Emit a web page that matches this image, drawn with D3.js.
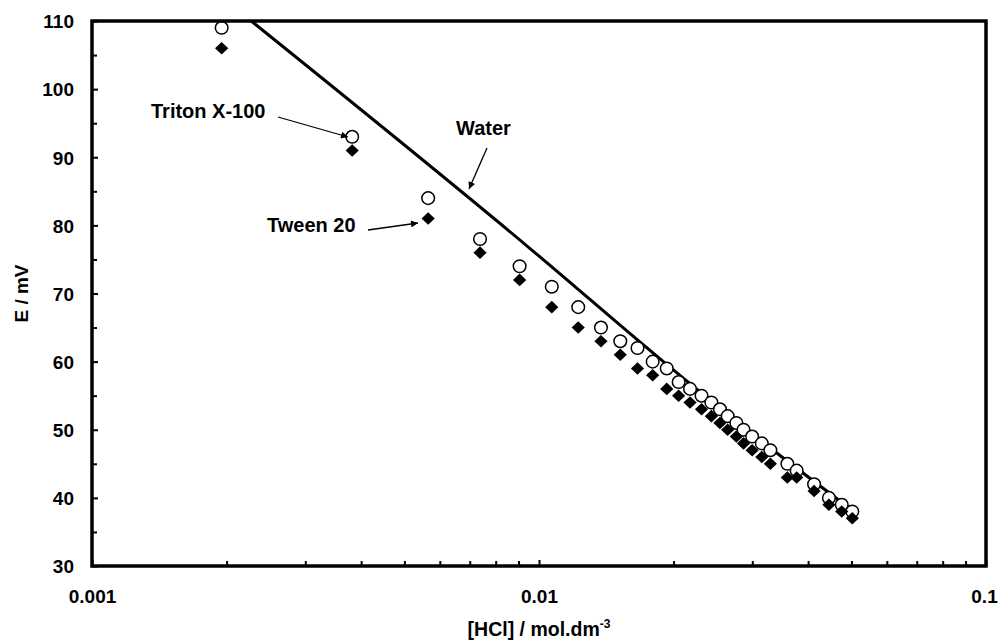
<!DOCTYPE html>
<html>
<head>
<meta charset="utf-8">
<script src="https://cdn.jsdelivr.net/npm/d3@7"></script>
<style>
  html, body { margin: 0; padding: 0; background: #fff; }
  svg { display: block; }
  text { font-family: "Liberation Sans", Arial, Helvetica, sans-serif; font-weight: bold; fill: #000; }
</style>
</head>
<body>
<svg id="chart" width="998" height="644"></svg>
<script>
// ---------------- data ----------------
const hcl = [0.00195, 0.00382, 0.00565, 0.00738, 0.00905, 0.01068, 0.01224, 0.01376, 0.01520, 0.01661,
             0.01796, 0.01931, 0.02053, 0.02177, 0.02310, 0.02430, 0.02540, 0.02643, 0.02764, 0.02868,
             0.02998, 0.03151, 0.03293, 0.03594, 0.03771, 0.04125, 0.04452, 0.04756, 0.05022];
const tritonE = [109, 93, 84, 78, 74, 71, 68, 65, 63, 62,
                 60, 59, 57, 56, 55, 54, 53, 52, 51, 50,
                 49, 48, 47, 45, 44, 42, 40, 39, 38];
const tweenE = [106, 91, 81, 76, 72, 68, 65, 63, 61, 59,
                58, 56, 55, 54, 53, 52, 51, 50, 49, 48,
                47, 46, 45, 43, 43, 41, 39, 38, 37];
const waterX = [0.00227, 0.00955, 0.01930, 0.03123, 0.05140];
const waterE = [110, 76.6, 59.6, 48.5, 37.7];
const xTickLabels = ["0.001", "0.01", "0.1"];
const xTickValues = [0.001, 0.01, 0.1];
const yTickValues = [30, 40, 50, 60, 70, 80, 90, 100, 110];
const yMinorTicks = [35, 45, 55, 65, 75, 85, 95, 105];
const annotationLabels = ["Triton X-100", "Tween 20", "Water"];

// ---------------- layout ----------------
const L = 92, R = 986, T = 21, B = 566;
const svg = d3.select("#chart");
const x = d3.scaleLog().domain([0.001, 0.1]).range([L, R]);
const y = d3.scaleLinear().domain([30, 110]).range([B, T]);

// arrowhead marker
svg.append("defs").append("marker")
  .attr("id", "ah").attr("viewBox", "0 0 10 10")
  .attr("refX", 10).attr("refY", 5)
  .attr("markerWidth", 10).attr("markerHeight", 7)
  .attr("markerUnits", "userSpaceOnUse")
  .attr("orient", "auto")
  .append("path").attr("d", "M0,0 L10,5 L0,10 z").attr("fill", "#000");

// minor x ticks
const xMinor = [];
[0.001, 0.01].forEach(d => { for (let k = 2; k <= 9; k++) xMinor.push(d * k); });

// x axis (ticks inside)
const xAxis = d3.axisBottom(x).tickValues(xTickValues)
  .tickFormat((d, i) => xTickLabels[i]).tickSizeInner(-6).tickSizeOuter(0).tickPadding(24);
const gx = svg.append("g").attr("transform", `translate(0,${B})`).call(xAxis);
gx.select(".domain").remove();
gx.selectAll(".tick line").attr("stroke", "#000").attr("stroke-width", 2);
gx.selectAll(".tick text").style("font-size", "19px").attr("dy", "0.71em");
// keep the last label inside the picture
gx.selectAll(".tick text").filter((d, i, n) => i === n.length - 1).attr("dx", -2);
const gxm = svg.append("g").attr("transform", `translate(0,${B})`)
  .call(d3.axisBottom(x).tickValues(xMinor).tickFormat("").tickSizeInner(-5).tickSizeOuter(0));
gxm.select(".domain").remove();
gxm.selectAll(".tick line").attr("stroke", "#000").attr("stroke-width", 2);

// y axis (ticks inside)
const yAxis = d3.axisLeft(y).tickValues(yTickValues).tickFormat(d3.format("d"))
  .tickSizeInner(-6).tickSizeOuter(0).tickPadding(18);
const gy = svg.append("g").attr("transform", `translate(${L},0)`).call(yAxis);
gy.select(".domain").remove();
gy.selectAll(".tick line").attr("stroke", "#000").attr("stroke-width", 2);
gy.selectAll(".tick text").style("font-size", "19px").attr("dy", "0.36em");
const gym = svg.append("g").attr("transform", `translate(${L},0)`)
  .call(d3.axisLeft(y).tickValues(yMinorTicks).tickFormat("").tickSizeInner(-5).tickSizeOuter(0));
gym.select(".domain").remove();
gym.selectAll(".tick line").attr("stroke", "#000").attr("stroke-width", 2);

// water line
const waterData = waterX.map((v, i) => [v, waterE[i]]);
svg.append("path").datum(waterData)
  .attr("fill", "none").attr("stroke", "#000").attr("stroke-width", 3)
  .attr("d", d3.line().x(d => x(d[0])).y(d => y(d[1])).curve(d3.curveMonotoneX));

// Triton X-100 open circles
svg.append("g").selectAll("circle").data(hcl.map((v, i) => [v, tritonE[i]]))
  .join("circle")
  .attr("cx", d => x(d[0])).attr("cy", d => y(d[1])).attr("r", 6.3)
  .attr("fill", "#fff").attr("stroke", "#000").attr("stroke-width", 1.5);

// Tween 20 filled diamonds
const dw = 6.6, dh = 6.3;
svg.append("g").selectAll("path").data(hcl.map((v, i) => [v, tweenE[i]]))
  .join("path")
  .attr("d", d => {
    const cx = x(d[0]), cy = y(d[1]);
    return `M${cx},${cy - dh}L${cx + dw},${cy}L${cx},${cy + dh}L${cx - dw},${cy}Z`;
  })
  .attr("fill", "#000");

// frame
svg.append("rect").attr("x", L).attr("y", T).attr("width", R - L).attr("height", B - T)
  .attr("fill", "none").attr("stroke", "#000").attr("stroke-width", 3.5);

// annotations
const ann = [
  { tx: 151, ty: 118, x1: 278, y1: 117, x2: 348, y2: 137 },
  { tx: 267, ty: 232, x1: 368, y1: 230, x2: 418, y2: 223 },
  { tx: 456, ty: 135, x1: 487, y1: 148, x2: 469, y2: 189 }
];
ann.forEach((a, i) => {
  svg.append("text").attr("x", a.tx).attr("y", a.ty).style("font-size", "20px").text(annotationLabels[i]);
  svg.append("line").attr("x1", a.x1).attr("y1", a.y1).attr("x2", a.x2).attr("y2", a.y2)
    .attr("stroke", "#000").attr("stroke-width", 1.3).attr("marker-end", "url(#ah)");
});

// axis titles
svg.append("text").attr("transform", `translate(28,${(T + B) / 2}) rotate(-90)`)
  .attr("text-anchor", "middle").style("font-size", "19px").text("E / mV");
const xt = svg.append("text").attr("x", (L + R) / 2).attr("y", 636)
  .attr("text-anchor", "middle").style("font-size", "19.5px");
xt.append("tspan").text("[HCl] / mol.dm");
xt.append("tspan").attr("dy", -8).style("font-size", "12px").text("-3");
</script>
</body>
</html>
